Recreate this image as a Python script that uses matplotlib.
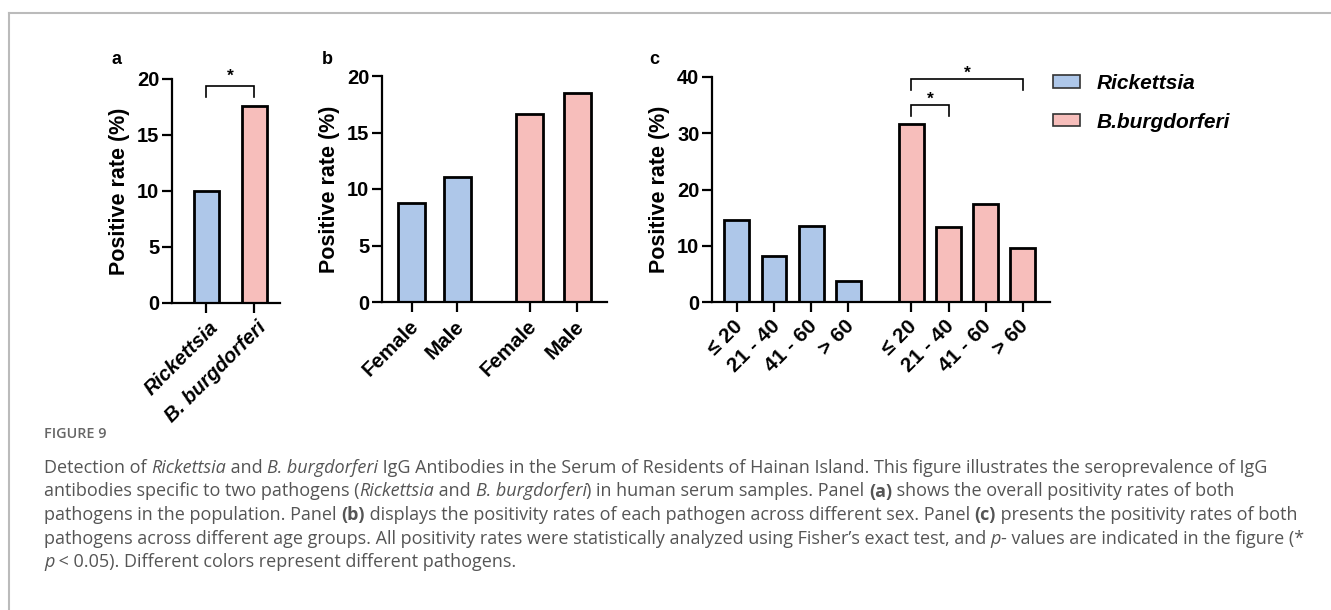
import matplotlib
matplotlib.use('Agg')
import matplotlib.pyplot as plt
from matplotlib.patches import Patch
from matplotlib.lines import Line2D
from matplotlib.transforms import ScaledTranslation

plt.rcParams['font.family'] = ['Liberation Sans', 'DejaVu Sans']

# data
overall_labels = ['Rickettsia', 'B. burgdorferi']
overall_rate = [10.0, 17.6]

sex_labels = ['Female', 'Male']
sex_rick = [8.8, 11.1]
sex_bb = [16.6, 18.5]

age_labels = ['\u2264 20', '21 - 40', '41 - 60', '> 60']
age_rick = [14.6, 8.2, 13.5, 3.7]
age_bb = [31.6, 13.3, 17.4, 9.6]

legend_names = ['Rickettsia', 'B.burgdorferi']

BLUE = '#aec7e9'
PINK = '#f7bebb'
W, H = 1331, 610


def px_axes(fig, left, right, bottom, top):
    return fig.add_axes([left / W, 1 - bottom / H, (right - left) / W, (bottom - top) / H])


def style_axes(ax, ymax, step):
    for s in ['top', 'right']:
        ax.spines[s].set_visible(False)
    for s in ['left', 'bottom']:
        ax.spines[s].set_linewidth(1.6)
    ax.set_ylim(0, ymax)
    ax.set_yticks(range(0, ymax + 1, step))
    ax.tick_params(axis='both', width=1.6, length=7, labelsize=14.5)
    ax.tick_params(axis='y', pad=2)
    for lab in ax.get_yticklabels():
        lab.set_fontweight('bold')
    ax.set_ylabel('Positive rate (%)', fontsize=15.5, fontweight='bold', labelpad=5)


def bracket(ax, x1, x2, y_top, y_leg, y_star):
    ax.plot([x1, x1, x2, x2], [y_leg, y_top, y_top, y_leg], color='black', lw=1.2,
            clip_on=False, solid_joinstyle='miter')
    ax.text((x1 + x2) / 2, y_star, '*', ha='center', va='center', fontsize=12.5, fontweight='bold')


def set_xlabels(ax, pos, labels, size, italic=False, dx=0.0):
    ax.set_xticks(pos)
    ax.set_xticklabels(labels, rotation=45, ha='right', rotation_mode='anchor',
                       fontsize=size, fontweight='bold',
                       fontstyle='italic' if italic else 'normal')
    shift = ScaledTranslation(dx, 0.0, fig.dpi_scale_trans)
    for lab in ax.get_xticklabels():
        lab.set_transform(lab.get_transform() + shift)


fig = plt.figure(figsize=(W / 100, H / 100), dpi=100)

# panel a
ax_a = px_axes(fig, 172, 280, 303, 79)
pos_a = [0, 1]
ax_a.bar(pos_a, overall_rate, width=0.52, color=[BLUE, PINK], edgecolor='black', linewidth=2)
ax_a.set_xlim(-0.71, 1.54)
style_axes(ax_a, 20, 5)
set_xlabels(ax_a, pos_a, overall_labels, 14.5, italic=True, dx=0.02)
bracket(ax_a, 0, 1, 19.4, 18.4, 20.2)

# panel b
ax_b = px_axes(fig, 382, 607, 302, 76)
pos_b_r = [0, 1]
pos_b_b = [2.6, 3.65]
ax_b.bar(pos_b_r, sex_rick, width=0.6, color=BLUE, edgecolor='black', linewidth=2)
ax_b.bar(pos_b_b, sex_bb, width=0.6, color=PINK, edgecolor='black', linewidth=2)
ax_b.set_xlim(-0.66, 4.31)
style_axes(ax_b, 20, 5)
set_xlabels(ax_b, pos_b_r + pos_b_b, sex_labels + sex_labels, 14.8, dx=-0.03)

# panel c
ax_c = px_axes(fig, 712, 1050, 302, 77)
pos_c_r = [0, 1, 2, 3]
pos_c_b = [4.7, 5.7, 6.7, 7.7]
ax_c.bar(pos_c_r, age_rick, width=0.67, color=BLUE, edgecolor='black', linewidth=2)
ax_c.bar(pos_c_b, age_bb, width=0.67, color=PINK, edgecolor='black', linewidth=2)
ax_c.set_xlim(-0.67, 8.43)
style_axes(ax_c, 40, 10)
set_xlabels(ax_c, pos_c_r + pos_c_b, age_labels + age_labels, 15, dx=-0.04)
bracket(ax_c, 4.7, 5.7, 35.0, 33.0, 36.0)
bracket(ax_c, 4.7, 7.7, 39.6, 37.6, 40.6)

# panel letters
for letter, x in [('a', 117), ('b', 327), ('c', 654)]:
    fig.text(x / W, 1 - 59 / H, letter, fontsize=13, fontweight='bold', ha='center', va='center')

# legend
handles = [Patch(facecolor=BLUE, edgecolor='#333333', linewidth=1.2),
           Patch(facecolor=PINK, edgecolor='#333333', linewidth=1.2)]
fig.legend(handles, legend_names, loc='upper left', bbox_to_anchor=(1034 / W, 1 - 55 / H),
           frameon=False, handlelength=1.3, handleheight=0.55, handletextpad=0.8,
           labelspacing=0.95, prop={'weight': 'bold', 'style': 'italic', 'size': 15})

# frame lines of the page
fig.add_artist(Line2D([9 / W, 1], [1 - 13 / H, 1 - 13 / H], color='#bbbbbb', lw=1.5))
fig.add_artist(Line2D([9 / W, 9 / W], [0, 1 - 13 / H], color='#bbbbbb', lw=1.5))

# caption
CAP = '#555555'
cap_font = ['Open Sans', 'DejaVu Sans']
fig.text(44 / W, 1 - 434 / H, 'FIGURE 9', fontsize=10.4, color='#666666', family=cap_font,
         fontweight='semibold', va='center')

caption_lines = [
    [('Detection of ', ''), ('Rickettsia', 'i'), (' and ', ''), ('B. burgdorferi', 'i'),
     (' IgG Antibodies in the Serum of Residents of Hainan Island. This figure illustrates the seroprevalence of IgG', '')],
    [('antibodies specific to two pathogens (', ''), ('Rickettsia', 'i'), (' and ', ''),
     ('B. burgdorferi', 'i'), (') in human serum samples. Panel ', ''), ('(a)', 'b'),
     (' shows the overall positivity rates of both', '')],
    [('pathogens in the population. Panel ', ''), ('(b)', 'b'),
     (' displays the positivity rates of each pathogen across different sex. Panel ', ''),
     ('(c)', 'b'), (' presents the positivity rates of both', '')],
    [('pathogens across different age groups. All positivity rates were statistically analyzed using Fisher\u2019s exact test, and ', ''),
     ('p', 'i'), ('- values are indicated in the figure (*', '')],
    [('p', 'i'), (' < 0.05). Different colors represent different pathogens.', '')],
]

renderer = fig.canvas.get_renderer()
for i, parts in enumerate(caption_lines):
    x = 44 / W
    y = 1 - (468 + i * 23.5) / H
    for txt, st in parts:
        t = fig.text(x, y, txt, fontsize=13.0, color=CAP, family=cap_font, va='center',
                     fontstyle='italic' if st == 'i' else 'normal',
                     fontweight='bold' if st == 'b' else 'normal')
        bb = t.get_window_extent(renderer)
        x += bb.width / W

fig.savefig('out.png', dpi=100)
